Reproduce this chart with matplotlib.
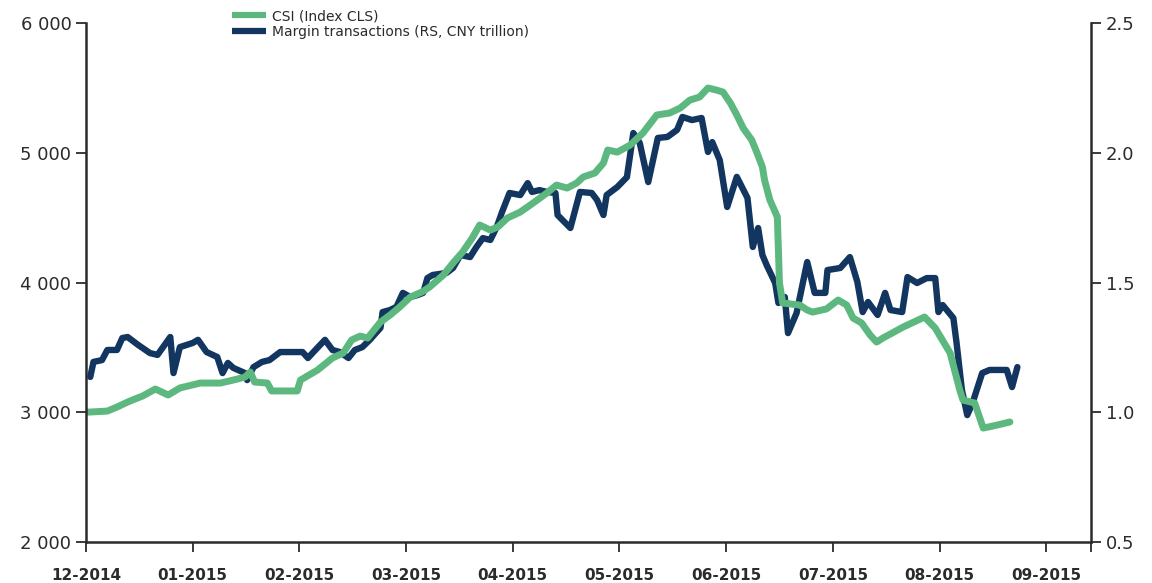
import matplotlib
matplotlib.use("Agg")
import matplotlib.pyplot as plt
from matplotlib.ticker import FixedLocator, FuncFormatter

# ---- data (x in month units from Dec-2014) ----
month_labels = ['12-2014', '01-2015', '02-2015', '03-2015', '04-2015',
                '05-2015', '06-2015', '07-2015', '08-2015', '09-2015']

csi_x = [0.00, 0.20, 0.29, 0.41, 0.53, 0.65, 0.77, 0.88, 1.07, 1.26, 1.38, 1.49, 1.54, 1.58,
         1.70, 1.74, 1.98, 2.01, 2.17, 2.31, 2.41, 2.49, 2.57, 2.64, 2.76, 2.85, 2.94, 3.04,
         3.15, 3.22, 3.35, 3.44, 3.53, 3.62, 3.69, 3.79, 3.86, 3.95, 4.07, 4.19, 4.32, 4.41,
         4.51, 4.60, 4.66, 4.77, 4.85, 4.89, 4.98, 5.10, 5.22, 5.35, 5.47, 5.57, 5.66, 5.75,
         5.83, 5.91, 5.97, 6.04, 6.10, 6.16, 6.24, 6.29, 6.34, 6.36, 6.41, 6.48, 6.49, 6.50,
         6.53, 6.69, 6.76, 6.81, 6.94, 7.05, 7.13, 7.19, 7.27, 7.35, 7.41, 7.47, 7.66, 7.86,
         7.96, 8.10, 8.19, 8.22, 8.33, 8.41, 8.54, 8.66]
csi_val = [3000, 3009, 3040, 3086, 3125, 3179, 3133, 3187, 3225, 3225, 3248, 3271, 3310, 3233,
           3225, 3164, 3164, 3248, 3325, 3418, 3456, 3557, 3587, 3572, 3695, 3749, 3811, 3888,
           3927, 3965, 4058, 4150, 4235, 4343, 4443, 4404, 4428, 4497, 4543, 4612, 4690, 4751,
           4728, 4767, 4813, 4844, 4921, 5021, 5005, 5059, 5152, 5291, 5306, 5345, 5406, 5429,
           5499, 5483, 5468, 5383, 5291, 5190, 5098, 4998, 4890, 4790, 4636, 4505, 4250, 3996,
           3842, 3826, 3788, 3772, 3796, 3865, 3826, 3726, 3688, 3595, 3541, 3572, 3657, 3734,
           3649, 3456, 3171, 3094, 3071, 2878, 2901, 2925]

margin_x = [0.04, 0.07, 0.15, 0.20, 0.29, 0.34, 0.39, 0.49, 0.60, 0.67, 0.79, 0.82, 0.88, 1.00,
            1.05, 1.13, 1.23, 1.28, 1.33, 1.38, 1.49, 1.51, 1.57, 1.65, 1.72, 1.82, 2.03, 2.08,
            2.15, 2.24, 2.31, 2.38, 2.46, 2.52, 2.59, 2.66, 2.76, 2.78, 2.85, 2.91, 2.97, 3.04,
            3.11, 3.16, 3.20, 3.25, 3.38, 3.44, 3.51, 3.60, 3.66, 3.72, 3.79, 3.85, 3.90, 3.97,
            4.07, 4.14, 4.18, 4.25, 4.32, 4.40, 4.42, 4.54, 4.63, 4.74, 4.79, 4.85, 4.88, 4.98,
            5.07, 5.13, 5.19, 5.27, 5.36, 5.45, 5.54, 5.59, 5.68, 5.77, 5.83, 5.87, 5.94, 6.01,
            6.10, 6.20, 6.25, 6.30, 6.34, 6.38, 6.46, 6.49, 6.55, 6.58, 6.66, 6.76, 6.83, 6.93,
            6.95, 7.07, 7.16, 7.23, 7.28, 7.33, 7.42, 7.49, 7.54, 7.65, 7.70, 7.79, 7.88, 7.96,
            7.99, 8.03, 8.13, 8.16, 8.21, 8.26, 8.31, 8.40, 8.47, 8.63, 8.68, 8.73]
margin_val = [1.136, 1.194, 1.201, 1.240, 1.240, 1.286, 1.290, 1.259, 1.228, 1.221, 1.290, 1.151,
              1.251, 1.267, 1.279, 1.232, 1.213, 1.151, 1.190, 1.171, 1.151, 1.124, 1.174, 1.194,
              1.201, 1.232, 1.232, 1.209, 1.240, 1.279, 1.240, 1.232, 1.209, 1.240, 1.251, 1.279,
              1.325, 1.386, 1.394, 1.406, 1.460, 1.444, 1.452, 1.460, 1.517, 1.529, 1.537, 1.556,
              1.606, 1.598, 1.637, 1.671, 1.664, 1.714, 1.772, 1.845, 1.837, 1.883, 1.849, 1.856,
              1.849, 1.845, 1.760, 1.710, 1.849, 1.845, 1.818, 1.760, 1.837, 1.868, 1.906, 2.076,
              2.038, 1.887, 2.057, 2.061, 2.088, 2.138, 2.126, 2.134, 2.003, 2.041, 1.972, 1.791,
              1.907, 1.826, 1.637, 1.710, 1.606, 1.567, 1.498, 1.421, 1.444, 1.305, 1.382, 1.579,
              1.460, 1.460, 1.548, 1.556, 1.598, 1.502, 1.386, 1.425, 1.375, 1.460, 1.394, 1.386,
              1.521, 1.498, 1.517, 1.517, 1.386, 1.413, 1.363, 1.267, 1.086, 0.989, 1.036, 1.151,
              1.163, 1.163, 1.097, 1.174]

left_ticks = [2000, 3000, 4000, 5000, 6000]
right_ticks = [0.5, 1.0, 1.5, 2.0, 2.5]
series_labels = ['CSI (Index CLS)', 'Margin transactions (RS, CNY trillion)']

GREEN = '#5cb87e'
NAVY = '#12365f'
INK = '#2b2b2b'

plt.rcParams['font.family'] = ['DejaVu Sans']

fig = plt.figure(figsize=(11.52, 5.83), dpi=100)
ax = fig.add_axes([86 / 1152, 41 / 583, 1005 / 1152, 519 / 583])
ax2 = ax.twinx()

l2, = ax2.plot(margin_x, margin_val, color=NAVY, lw=4.6, solid_joinstyle='round',
               solid_capstyle='round', label=series_labels[1])
l1, = ax.plot(csi_x, csi_val, color=GREEN, lw=5.0, solid_joinstyle='round',
              solid_capstyle='round', label=series_labels[0])

ax.set_zorder(ax2.get_zorder() + 1)
ax.patch.set_visible(False)

ax.set_xlim(0, 9.42)
ax.set_ylim(2000, 6000)
ax2.set_ylim(0.5, 2.5)

ax.xaxis.set_major_locator(FixedLocator(range(len(month_labels))))
ax.set_xticklabels(month_labels, fontsize=11, fontweight='bold', color=INK)
ax.xaxis.set_minor_locator(FixedLocator([9.42]))
ax.tick_params(axis='x', which='both', direction='out', length=7.5, width=1.3,
               color=INK, pad=11)

ax.set_yticks(left_ticks)
ax.yaxis.set_major_formatter(FuncFormatter(lambda v, p: f"{int(v):,}".replace(',', ' ')))
ax.tick_params(axis='y', direction='out', length=7.5, width=1.3, color=INK,
               labelsize=13, labelcolor=INK, pad=3)

ax2.set_yticks(right_ticks)
ax2.yaxis.set_major_formatter(FuncFormatter(lambda v, p: f"{v:.1f}"))
ax2.tick_params(axis='y', direction='out', length=7.5, width=1.3, color=INK,
                labelsize=13, labelcolor=INK, pad=3)

for a in (ax, ax2):
    a.spines['top'].set_visible(False)
    for s in ('left', 'right', 'bottom'):
        a.spines[s].set_color(INK)
        a.spines[s].set_linewidth(1.8)
ax.spines['right'].set_visible(False)
ax2.spines['left'].set_visible(False)
ax2.spines['bottom'].set_visible(False)

leg = fig.legend([l1, l2], series_labels, loc='upper left',
                 bbox_to_anchor=(232 / 1152, 1 - 9 / 583), frameon=False,
                 fontsize=10, handlelength=2.45, handletextpad=0.45,
                 labelspacing=0.12, borderpad=0, borderaxespad=0)
for h in leg.legend_handles:
    h.set_linewidth(4.5)
    h.set_solid_capstyle('butt')
for t in leg.get_texts():
    t.set_color(INK)

fig.savefig('out.png', dpi=100)
